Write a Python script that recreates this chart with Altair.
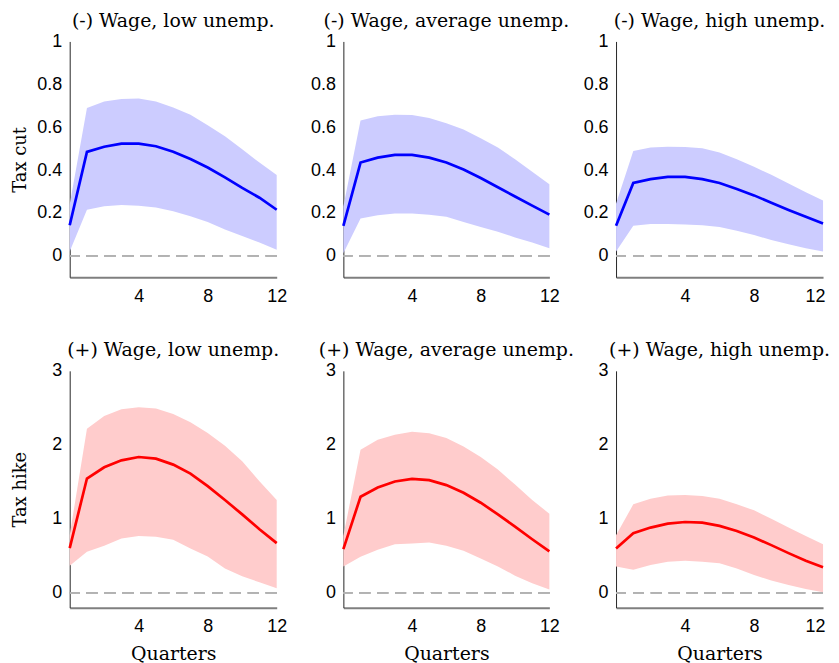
import altair as alt
import pandas as pd

quarters = list(range(13))

titles_cut = ["(-) Wage, low unemp.", "(-) Wage, average unemp.", "(-) Wage, high unemp."]
titles_hike = ["(+) Wage, low unemp.", "(+) Wage, average unemp.", "(+) Wage, high unemp."]

# Tax cut, low / average / high unemployment
cut_low_med = [0.143, 0.485, 0.509, 0.523, 0.523, 0.511, 0.486, 0.452, 0.412, 0.366, 0.317, 0.271, 0.215]
cut_low_hi = [0.24, 0.689, 0.72, 0.731, 0.734, 0.72, 0.692, 0.658, 0.609, 0.558, 0.497, 0.435, 0.377]
cut_low_lo = [0.02, 0.215, 0.231, 0.237, 0.234, 0.225, 0.208, 0.185, 0.158, 0.123, 0.092, 0.062, 0.028]

cut_avg_med = [0.14, 0.435, 0.458, 0.471, 0.471, 0.458, 0.435, 0.403, 0.363, 0.32, 0.277, 0.234, 0.192]
cut_avg_hi = [0.23, 0.631, 0.651, 0.658, 0.657, 0.643, 0.618, 0.589, 0.548, 0.505, 0.451, 0.392, 0.334]
cut_avg_lo = [0.012, 0.174, 0.189, 0.197, 0.197, 0.192, 0.182, 0.158, 0.135, 0.112, 0.086, 0.062, 0.035]

cut_high_med = [0.14, 0.34, 0.358, 0.368, 0.368, 0.358, 0.34, 0.312, 0.282, 0.248, 0.214, 0.182, 0.151]
cut_high_hi = [0.243, 0.489, 0.505, 0.509, 0.508, 0.502, 0.482, 0.451, 0.415, 0.378, 0.338, 0.297, 0.258]
cut_high_lo = [0.02, 0.14, 0.148, 0.148, 0.146, 0.143, 0.135, 0.117, 0.097, 0.074, 0.054, 0.035, 0.02]

# Tax hike, low / average / high unemployment
hike_low_med = [0.605, 1.545, 1.697, 1.791, 1.836, 1.814, 1.733, 1.612, 1.442, 1.254, 1.061, 0.86, 0.672]
hike_low_hi = [0.78, 2.217, 2.391, 2.481, 2.508, 2.49, 2.418, 2.306, 2.159, 1.988, 1.778, 1.509, 1.254]
hike_low_lo = [0.367, 0.555, 0.636, 0.734, 0.77, 0.757, 0.717, 0.6, 0.493, 0.331, 0.224, 0.143, 0.063]

hike_avg_med = [0.591, 1.299, 1.424, 1.505, 1.541, 1.523, 1.456, 1.352, 1.218, 1.061, 0.896, 0.725, 0.56]
hike_avg_hi = [0.77, 1.935, 2.069, 2.136, 2.176, 2.158, 2.091, 1.979, 1.836, 1.666, 1.464, 1.254, 1.07]
hike_avg_lo = [0.358, 0.488, 0.582, 0.658, 0.667, 0.681, 0.636, 0.569, 0.466, 0.358, 0.233, 0.13, 0.045]

hike_high_med = [0.6, 0.806, 0.882, 0.936, 0.958, 0.949, 0.905, 0.837, 0.748, 0.645, 0.537, 0.434, 0.345]
hike_high_hi = [0.779, 1.196, 1.272, 1.317, 1.321, 1.308, 1.272, 1.196, 1.115, 1.003, 0.882, 0.77, 0.658]
hike_high_lo = [0.358, 0.313, 0.376, 0.421, 0.434, 0.421, 0.399, 0.331, 0.242, 0.166, 0.107, 0.054, 0.009]

x_ticks = [4, 8, 12]
cut_ticks = [0, 0.2, 0.4, 0.6, 0.8, 1]
hike_ticks = [0, 1, 2, 3]

SERIF = "DejaVu Serif"
SANS = "Liberation Sans"


def panel(med, lo, hi, title, line_color, band_color, ydomain, yticks, ytitle, xtitle,
          width, height, last_col):
    df = pd.DataFrame({"q": quarters, "med": med, "lo": lo, "hi": hi})
    xaxis_kwargs = dict(
        values=x_ticks, format="d", grid=False, ticks=False, tickSize=0,
        labelFont=SANS, labelFontSize=18, labelColor="black", labelPadding=10,
        domainColor="#7f7f7f", domainWidth=2,
        titleFont=SERIF, titleFontSize=19, titleFontWeight="normal",
        titleColor="black", titlePadding=9,
        labelFlush=last_col,
    )
    if last_col:
        xaxis_kwargs["labelFlushOffset"] = 2
    xaxis_kwargs["title"] = xtitle if xtitle else None
    yaxis_kwargs = dict(
        values=yticks, format=".1~f", grid=False, ticks=False, tickSize=0,
        labelFont=SANS, labelFontSize=18, labelColor="black", labelPadding=8,
        domainColor="#262626", domainWidth=1,
        minExtent=34, maxExtent=34,
        titleFont=SERIF, titleFontSize=18, titleFontWeight="normal",
        titleColor="black", titlePadding=6,
    )
    yaxis_kwargs["title"] = ytitle if ytitle else None

    x = alt.X("q:Q", scale=alt.Scale(domain=[0, 12], nice=False, zero=False),
              axis=alt.Axis(**xaxis_kwargs))
    yscale = alt.Scale(domain=ydomain, nice=False, zero=False)
    base = alt.Chart(df)
    area = base.mark_area(color=band_color, opacity=1).encode(
        x=x,
        y=alt.Y("lo:Q", scale=yscale, axis=alt.Axis(**yaxis_kwargs)),
        y2="hi:Q",
    )
    rule = base.mark_rule(color="#b3b3b3", strokeDash=[11, 7], strokeWidth=1.2).encode(
        y=alt.datum(0)
    )
    line = base.mark_line(color=line_color, strokeWidth=2.7).encode(
        x="q:Q", y="med:Q"
    )
    return alt.layer(area, rule, line).properties(
        width=width,
        height=height,
        title=alt.TitleParams(
            text=title, font=SERIF, fontSize=19, fontWeight="normal", color="black",
            anchor="middle", frame="group", baseline="bottom", offset=-17,
        ),
    )


widths = [208, 207, 208]
cut_data = [
    (cut_low_med, cut_low_lo, cut_low_hi),
    (cut_avg_med, cut_avg_lo, cut_avg_hi),
    (cut_high_med, cut_high_lo, cut_high_hi),
]
hike_data = [
    (hike_low_med, hike_low_lo, hike_low_hi),
    (hike_avg_med, hike_avg_lo, hike_avg_hi),
    (hike_high_med, hike_high_lo, hike_high_hi),
]

panels = []
for i, (m, l, h) in enumerate(cut_data):
    panels.append(panel(m, l, h, titles_cut[i], "#0000ff", "#ccccff", [-0.1, 1], cut_ticks,
                        "Tax cut" if i == 0 else "", "", widths[i], 237, i == 2))
for i, (m, l, h) in enumerate(hike_data):
    panels.append(panel(m, l, h, titles_hike[i], "#ff0000", "#ffcccc", [-0.2, 3], hike_ticks,
                        "Tax hike" if i == 0 else "", "Quarters", widths[i], 238, i == 2))

chart = alt.concat(
    *panels, columns=3, spacing={"row": 94, "column": 67}, bounds="flush"
).properties(
    padding={"left": 4, "top": 2, "right": 0, "bottom": 0},
    background="white",
).configure_view(stroke=None)

chart.save("out.html", embed_options={"renderer": "svg", "actions": False})
